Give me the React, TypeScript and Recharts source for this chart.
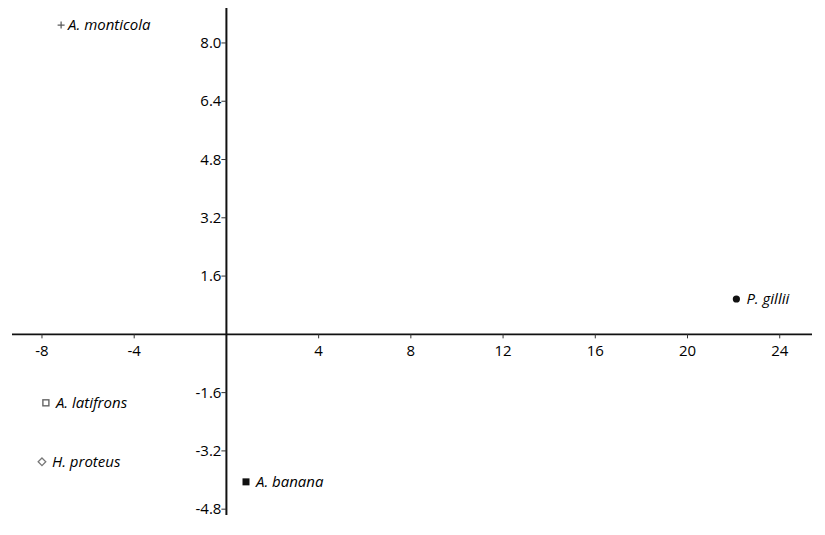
import { ScatterChart, Scatter, XAxis, YAxis, ReferenceLine, ReferenceDot } from 'recharts';

const species = ['A. monticola', 'P. gillii', 'A. latifrons', 'H. proteus', 'A. banana'];
const xValues = [-7.17, 22.12, -7.83, -8.0, 0.85];
const yValues = [8.49, 0.97, -1.88, -3.5, -4.05];
const markers = ['plus', 'circle', 'openSquare', 'diamond', 'square'];

const xTicks = [-8, -4, 4, 8, 12, 16, 20, 24];
const yTicks = [8.0, 6.4, 4.8, 3.2, 1.6, -1.6, -3.2, -4.8];

const data = species.map((name, i) => ({ name, x: xValues[i], y: yValues[i], marker: markers[i] }));

const FONT = '"Open Sans", "DejaVu Sans", sans-serif';

function Marker({ type, cx, cy }: { type: string; cx: number; cy: number }) {
  switch (type) {
    case 'plus':
      return (
        <g stroke="#555" strokeWidth={1.2}>
          <line x1={cx - 3.5} y1={cy} x2={cx + 3.5} y2={cy} />
          <line x1={cx} y1={cy - 3.5} x2={cx} y2={cy + 3.5} />
        </g>
      );
    case 'circle':
      return <circle cx={cx} cy={cy} r={3.6} fill="#111" />;
    case 'openSquare':
      return <rect x={cx - 3} y={cy - 3} width={6} height={6} fill="#fff" stroke="#666" strokeWidth={1.4} />;
    case 'diamond':
      return (
        <polygon
          points={`${cx},${cy - 3.8} ${cx + 3.8},${cy} ${cx},${cy + 3.8} ${cx - 3.8},${cy}`}
          fill="#fff"
          stroke="#777"
          strokeWidth={1.3}
        />
      );
    default:
      return <rect x={cx - 3.5} y={cy - 3.5} width={7} height={7} fill="#111" />;
  }
}

function PointShape(props: any) {
  const { cx, cy, payload } = props;
  const gap = payload.marker === 'plus' ? 7 : 10;
  return (
    <g>
      <Marker type={payload.marker} cx={cx} cy={cy} />
      <text
        x={cx + gap}
        y={cy}
        dy="0.35em"
        fontFamily={FONT}
        fontStyle="italic"
        fontSize={15}
        fill="#000"
      >
        {payload.name}
      </text>
    </g>
  );
}

function XTick(props: any) {
  const { cx, cy, label } = props;
  return (
    <g>
      <line x1={cx} y1={cy} x2={cx} y2={cy + 4} stroke="#333" strokeWidth={1} />
      <text x={cx} y={cy + 22} textAnchor="middle" fontFamily={FONT} fontSize={15} fill="#000">
        {label}
      </text>
    </g>
  );
}

function YTick(props: any) {
  const { cx, cy, label } = props;
  return (
    <g>
      <line x1={cx - 5} y1={cy} x2={cx} y2={cy} stroke="#333" strokeWidth={1} />
      <text x={cx - 5} y={cy} dy="0.35em" textAnchor="end" fontFamily={FONT} fontSize={15} fill="#000">
        {label}
      </text>
    </g>
  );
}

export default function App() {
  return (
    <div style={{ position: 'absolute', left: 0, top: 0, background: '#fff' }}>
      <ScatterChart width={825} height={535} margin={{ top: 8, right: 13, bottom: 20, left: 12 }}>
        <XAxis type="number" dataKey="x" domain={[-9.3, 25.4]} hide />
        <YAxis type="number" dataKey="y" domain={[-4.96, 8.96]} hide />
        <ReferenceLine y={0} stroke="#111" strokeWidth={1.6} />
        <ReferenceLine x={0} stroke="#111" strokeWidth={2} />
        {xTicks.map((t) => (
          <ReferenceDot
            key={`x${t}`}
            x={t}
            y={0}
            r={0}
            shape={(p: any) => <XTick {...p} label={String(t)} />}
          />
        ))}
        {yTicks.map((t) => (
          <ReferenceDot
            key={`y${t}`}
            x={0}
            y={t}
            r={0}
            shape={(p: any) => <YTick {...p} label={t.toFixed(1)} />}
          />
        ))}
        <Scatter data={data} shape={PointShape} isAnimationActive={false} />
      </ScatterChart>
    </div>
  );
}
